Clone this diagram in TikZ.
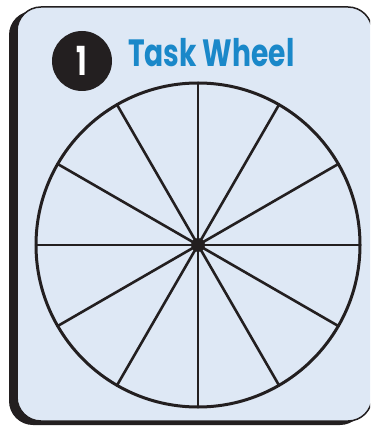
\documentclass[tikz,border=0pt]{standalone}
\usepackage{fontspec}
\newfontfamily\titlefont{Poppins}
\definecolor{cardblue}{HTML}{DEE8F5}
\definecolor{titleblue}{HTML}{1A88C9}
\definecolor{inkblack}{HTML}{231F20}
\begin{document}
\begin{tikzpicture}[x=1pt,y=-1pt,line join=round,line cap=round]
	\useasboundingbox (0,0) rectangle (370,427);
	\clip (0,0) rectangle (370,427);
	% card and its shadow
	\fill[inkblack,rounded corners=24] (9,11) rectangle (364,425);
	\filldraw[fill=cardblue,draw=inkblack,line width=1.5,rounded corners=24] (17,7) rectangle (372,421);
	% heading
	\node[circle,fill=inkblack,minimum size=60,inner sep=0] (num) at (82,61) {};
	\node[text=white,font=\titlefont\bfseries\fontsize{40}{40}\selectfont] (numtext) at (num) {\scalebox{0.7}[1]{1}};
	\node[anchor=base west,inner sep=0,text=titleblue,font=\titlefont\bfseries\fontsize{38}{38}\selectfont] (title) at (128,67) {\scalebox{0.74}[1]{Task Wheel}};
	% wheel
	\coordinate (hub) at (198,245);
	\draw[inkblack,line width=3] (hub) circle[radius=162];
	\draw[inkblack,line width=2.6] (hub) ++(90:162) -- ++(270:324);
	\draw[inkblack,line width=2.6] (hub) ++(0:162) -- ++(180:324);
	\draw[inkblack,line width=2.6] (hub) ++(30:162) -- ++(210:324);
	\draw[inkblack,line width=2.6] (hub) ++(60:162) -- ++(240:324);
	\draw[inkblack,line width=2.6] (hub) ++(120:162) -- ++(300:324);
	\draw[inkblack,line width=2.6] (hub) ++(150:162) -- ++(330:324);
	\fill[inkblack] (hub) circle[radius=7];
\end{tikzpicture}
\end{document}
